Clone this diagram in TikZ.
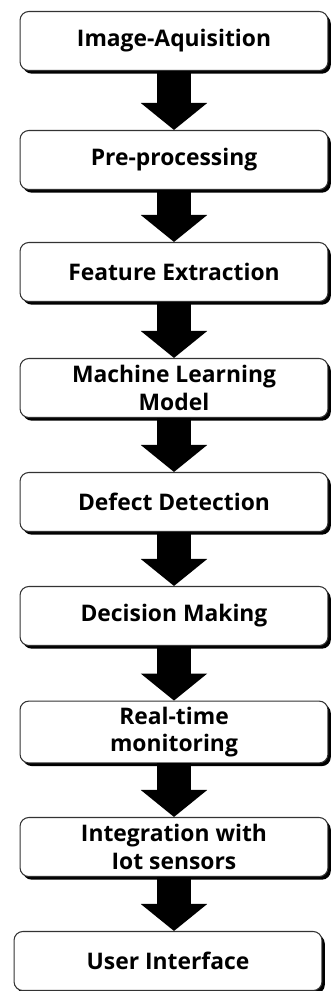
\documentclass[tikz,border=0pt]{standalone}
\usepackage{fontspec}
\setmainfont{Open Sans}
\usetikzlibrary{arrows.meta, shadows}

\tikzset{
  stage/.style={draw=black!80, line width=0.6pt, fill=white, rounded corners=5pt,
    minimum width=6.16cm, minimum height=1.18cm, align=center,
    font=\bfseries\fontsize{13}{15.5}\selectfont,
    drop shadow={shadow xshift=1.6pt, shadow yshift=-1.8pt, fill=black, opacity=1}},
  flow/.style={line width=0.7cm, -{Triangle[width=1.3cm, length=0.54cm]}}
}

\begin{document}
\begin{tikzpicture}[x=0.02cm, y=-0.02cm]
\useasboundingbox (0,0) rectangle (334,991);

% Stages
\node[stage] (acq) at (174,41) {Image-Aquisition};
\node[stage] (pre) at (174,160) {Pre-processing};
\node[stage] (feat) at (174,272) {Feature Extraction};
\node[stage] (ml) at (174,388) {Machine Learning\\Model};
\node[stage] (defect) at (174,502) {Defect Detection};
\node[stage] (decide) at (174,616) {Decision Making};
\node[stage] (monitor) at (174,732) {Real-time\\monitoring};
\node[stage] (iot) at (174,847) {Integration with\\Iot sensors};
\node[stage] (ui) at (168,961) {User Interface};

% Arrows
\draw[flow] (acq.south) -- (pre.north);
\draw[flow] (pre.south) -- (feat.north);
\draw[flow] (feat.south) -- (ml.north);
\draw[flow] (ml.south) -- (defect.north);
\draw[flow] (defect.south) -- (decide.north);
\draw[flow] (decide.south) -- (monitor.north);
\draw[flow] (monitor.south) -- (iot.north);
\draw[flow] (iot.south) -- (iot.south |- ui.north);
\end{tikzpicture}
\end{document}
